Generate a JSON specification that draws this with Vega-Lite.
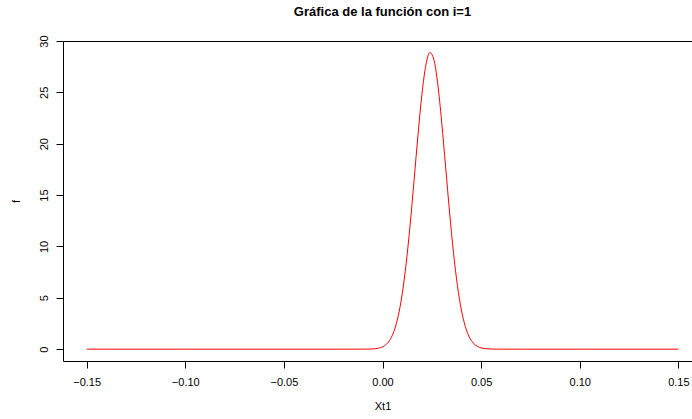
{
  "$schema": "https://vega.github.io/schema/vega-lite/v6.json",
  "width": 639,
  "height": 320,
  "autosize": {"type": "none"},
  "padding": {"left": 63, "top": 41, "right": 0, "bottom": 58},
  "background": "white",
  "title": {
    "text": "Gráfica de la función con i=1",
    "font": "Liberation Sans",
    "fontSize": 13,
    "fontWeight": "bold",
    "color": "black",
    "anchor": "middle",
    "offset": 16
  },
  "config": {
    "view": {"stroke": "black", "strokeWidth": 1},
    "axis": {
      "grid": false,
      "domain": false,
      "tickColor": "black",
      "tickSize": 7,
      "tickWidth": 1,
      "labelFont": "Liberation Sans",
      "labelFontSize": 11,
      "labelColor": "black",
      "titleFont": "Liberation Sans",
      "titleFontSize": 11,
      "titleFontWeight": "normal",
      "titleColor": "black"
    }
  },
  "data": {
    "values": [
      {"x": -0.15, "f": 0},
      {"x": -0.10, "f": 0},
      {"x": -0.05, "f": 0},
      {"x": -0.02, "f": 0},
      {"x": -0.01, "f": 0.001},
      {"x": -0.008, "f": 0.005},
      {"x": -0.006, "f": 0.015},
      {"x": -0.004, "f": 0.040},
      {"x": -0.002, "f": 0.098},
      {"x": 0.000, "f": 0.226},
      {"x": 0.002, "f": 0.485},
      {"x": 0.004, "f": 0.977},
      {"x": 0.006, "f": 1.844},
      {"x": 0.008, "f": 3.254},
      {"x": 0.010, "f": 5.381},
      {"x": 0.012, "f": 8.338},
      {"x": 0.014, "f": 12.08},
      {"x": 0.016, "f": 16.41},
      {"x": 0.018, "f": 20.86},
      {"x": 0.020, "f": 24.83},
      {"x": 0.022, "f": 27.67},
      {"x": 0.024, "f": 28.88},
      {"x": 0.026, "f": 28.22},
      {"x": 0.028, "f": 25.83},
      {"x": 0.030, "f": 22.13},
      {"x": 0.032, "f": 17.75},
      {"x": 0.034, "f": 13.34},
      {"x": 0.036, "f": 9.38},
      {"x": 0.038, "f": 6.18},
      {"x": 0.040, "f": 3.81},
      {"x": 0.042, "f": 2.20},
      {"x": 0.044, "f": 1.19},
      {"x": 0.046, "f": 0.603},
      {"x": 0.048, "f": 0.286},
      {"x": 0.050, "f": 0.127},
      {"x": 0.052, "f": 0.053},
      {"x": 0.054, "f": 0.021},
      {"x": 0.056, "f": 0.007},
      {"x": 0.058, "f": 0.002},
      {"x": 0.06, "f": 0.0005},
      {"x": 0.07, "f": 0},
      {"x": 0.10, "f": 0},
      {"x": 0.15, "f": 0}
    ]
  },
  "mark": {"type": "line", "color": "#FF0000", "strokeWidth": 1, "interpolate": "monotone", "clip": true},
  "encoding": {
    "x": {
      "field": "x",
      "type": "quantitative",
      "scale": {"domain": [-0.162, 0.162], "nice": false, "zero": false},
      "axis": {
        "title": "Xt1",
        "values": [-0.15, -0.1, -0.05, 0, 0.05, 0.1, 0.15],
        "format": ".2f",
        "labelPadding": 8,
        "titlePadding": 13,
        "labelFlush": false,
        "labelOverlap": false
      }
    },
    "y": {
      "field": "f",
      "type": "quantitative",
      "scale": {"domain": [-1.154, 30.0], "nice": false, "zero": false},
      "axis": {
        "title": "f",
        "values": [0, 5, 10, 15, 20, 25, 30],
        "labelAngle": 270,
        "labelAlign": "center",
        "labelBaseline": "bottom",
        "labelPadding": 7,
        "titlePadding": 17,
        "labelFlush": false,
        "labelOverlap": false
      }
    }
  }
}
